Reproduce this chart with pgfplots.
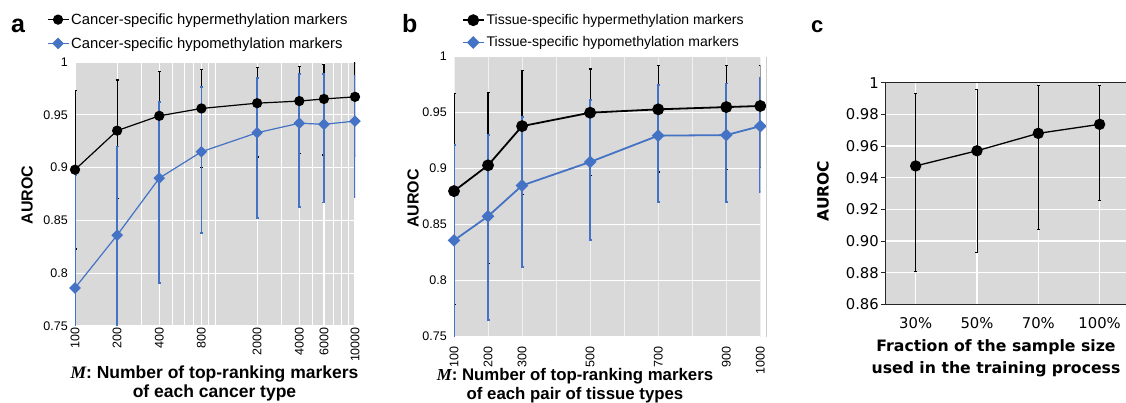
\documentclass[border=0pt]{standalone}
\usepackage{pgfplots}
\pgfplotsset{compat=1.18}
\usepackage{pgfplotstable}
\usepackage{fontspec}
\setmainfont{Liberation Sans}
\newfontfamily\dejavu{DejaVu Sans}
\newfontfamily\serifM{Liberation Serif}
\definecolor{bg}{HTML}{D9D9D9}
\definecolor{xblue}{HTML}{4472C4}

\pgfplotstableread{
x y lo hi
100 0.898 0.823 0.973
200 0.935 0.871 0.983
400 0.949 0.893 0.991
800 0.956 0.900 0.993
2000 0.961 0.910 0.995
4000 0.963 0.913 0.996
6000 0.965 0.912 0.998
10000 0.967 0.911 0.999
}\ahyper
\pgfplotstableread{
x y lo hi
100 0.786 0.700 0.893
200 0.836 0.700 0.920
400 0.890 0.791 0.962
800 0.915 0.838 0.976
2000 0.933 0.852 0.985
4000 0.942 0.863 0.989
6000 0.941 0.867 0.989
10000 0.944 0.872 0.987
}\ahypo
\pgfplotstableread{
x y lo hi
100 0.880 0.779 0.967
200 0.903 0.8155 0.968
300 0.938 0.877 0.9875
500 0.950 0.894 0.989
700 0.953 0.897 0.992
900 0.955 0.899 0.992
1000 0.956 0.901 0.992
}\bhyper
\pgfplotstableread{
x y lo hi
100 0.836 0.700 0.921
200 0.8575 0.765 0.930
300 0.885 0.8125 0.946
500 0.906 0.836 0.961
700 0.9295 0.8705 0.975
900 0.930 0.870 0.976
1000 0.938 0.879 0.981
}\bhypo
\pgfplotstableread{
x y lo hi
0 0.9474 0.8805 0.9935
1 0.957 0.893 0.996
2 0.968 0.907 0.9985
3 0.9737 0.9255 0.9985
}\cdata

\pgfplotsset{
  errb/.style 2 args={forget plot, only marks, mark=none,
    error bars/.cd, y dir=both, y explicit,
    error bar style={draw=#1, line width=#2},
    error mark options={draw=#1, rotate=90, mark size=1.5pt, line width=#2}},
  panel/.style={scale only axis, clip mode=individual,
    axis background/.style={fill=bg},
    axis line style={draw=none},
    tick style={draw=none},
    major tick length=0pt,
    legend cell align=left,
    legend image code/.code={\draw[mark repeat=2,mark phase=2] plot coordinates {(0pt,0pt) (10.5pt,0pt) (21pt,0pt)};}
  }
}

\begin{document}
\begin{tikzpicture}[x=1pt,y=1pt]
\useasboundingbox (0pt,0pt) rectangle (1126pt,403pt);

% ---------------- panel a
\begin{axis}[panel, at={(75pt,77pt)}, anchor=south west, width=280pt, height=264pt,
  xmode=log, xmin=100, xmax=10000, ymin=0.75, ymax=1,
  xtick={100,200,400,800,2000,4000,6000,10000},
  xticklabels={100,200,400,800,2000,4000,6000,10000},
  minor xtick={300,500,600,700,900,1000,3000,5000,7000,8000,9000},
  ytick={0.75,0.8,0.85,0.9,0.95,1},
  yticklabels={0.75,0.8,0.85,0.9,0.95,1},
  xmajorgrids, xminorgrids, ymajorgrids,
  major grid style={white, line width=1.1pt},
  minor grid style={white, line width=0.8pt},
  xticklabel style={rotate=90, anchor=east, font=\fontsize{12.5}{14}\selectfont, inner sep=1pt},
  yticklabel style={font=\fontsize{12.5}{14}\selectfont, inner sep=1pt, xshift=-6pt},
  legend style={at={(axis description cs:-0.101,1.192)}, anchor=north west, draw=none, fill=none,
    inner sep=0pt, row sep=7.6pt, font=\fontsize{14.8}{17}\selectfont,
    nodes={inner sep=2pt}},
]
\addplot[errb={black}{1.2pt}] table[x=x, y=y, y error plus expr=\thisrow{hi}-\thisrow{y}, y error minus expr=\thisrow{y}-\thisrow{lo}]{\ahyper};
\addplot[errb={xblue}{1.8pt}] table[x=x, y=y, y error plus expr=\thisrow{hi}-\thisrow{y}, y error minus expr=\thisrow{y}-\thisrow{lo}]{\ahypo};
\addplot[black, line width=1.2pt, mark=*, mark size=4.5pt, mark options={fill=black}] table[x=x,y=y]{\ahyper};
\addlegendentry{Cancer-specific hypermethylation markers}
\addplot[xblue, line width=1.2pt, mark=square*, mark size=3.5pt, mark options={fill=xblue, rotate=45}] table[x=x,y=y]{\ahypo};
\addlegendentry{Cancer-specific hypomethylation markers}
\end{axis}

% ---------------- panel b
\begin{axis}[panel, at={(454pt,66.3pt)}, anchor=south west, width=306.3pt, height=280pt,
  xmin=100, xmax=1000, ymin=0.75, ymax=1,
  xtick={100,200,300,500,700,900,1000},
  xticklabels={100,200,300,500,700,900,1000},
  minor xtick={400,600,800},
  ytick={0.75,0.8,0.85,0.9,0.95,1},
  yticklabels={0.75,0.8,0.85,0.9,0.95,1},
  xmajorgrids, xminorgrids, ymajorgrids,
  major grid style={white, line width=1.1pt},
  minor grid style={white!60!bg, line width=0.8pt},
  x grid style={white!60!bg, line width=0.8pt},
  xticklabel shift=9pt,
  xticklabel style={rotate=90, anchor=east, font=\fontsize{12.5}{14}\selectfont, inner sep=1pt},
  yticklabel style={font=\fontsize{12.5}{14}\selectfont, inner sep=1pt, xshift=-6pt},
  legend style={at={(axis description cs:0.025,1.159)}, anchor=north west, draw=none, fill=none,
    inner sep=0pt, row sep=6.7pt, font=\fontsize{14}{16}\selectfont,
    nodes={inner sep=2pt}},
]
\addplot[errb={black}{1.2pt}] table[x=x, y=y, y error plus expr=\thisrow{hi}-\thisrow{y}, y error minus expr=\thisrow{y}-\thisrow{lo}]{\bhyper};
\addplot[errb={xblue}{1.8pt}] table[x=x, y=y, y error plus expr=\thisrow{hi}-\thisrow{y}, y error minus expr=\thisrow{y}-\thisrow{lo}]{\bhypo};
\addplot[black, line width=1.8pt, mark=*, mark size=5pt, mark options={fill=black}] table[x=x,y=y]{\bhyper};
\addlegendentry{Tissue-specific hypermethylation markers}
\addplot[xblue, line width=1.8pt, mark=square*, mark size=3.6pt, mark options={fill=xblue, rotate=45}] table[x=x,y=y]{\bhypo};
\addlegendentry{Tissue-specific hypomethylation markers}
\end{axis}
\draw[gray!40, line width=0.8pt] (766pt,66.3pt) -- (766pt,346.3pt);

% ---------------- panel c
\begin{axis}[scale only axis, at={(885pt,98.7pt)}, anchor=south west, width=241.6pt, height=221.6pt,
  axis background/.style={fill=bg},
  axis line style={draw=black!85, line width=1pt},
  xmin=-0.5, xmax=3.44, ymin=0.86, ymax=1,
  xtick={0,1,2,3}, xticklabels={30\%,50\%,70\%,100\%},
  ytick={0.86,0.88,0.9,0.92,0.94,0.96,0.98,1},
  yticklabels={0.86,0.88,0.90,0.92,0.94,0.96,0.98,1},
  xmajorgrids, ymajorgrids,
  major grid style={white, line width=1.1pt},
  xtick style={draw=none},
  ytick style={draw=black!85, line width=0.8pt},
  tick align=outside, major tick length=4pt,
  xticklabel style={font=\dejavu\fontsize{14.8}{16}\selectfont, yshift=-6pt},
  yticklabel style={font=\dejavu\fontsize{14.8}{16}\selectfont, inner sep=2pt},
]
\addplot[errb={black}{0.9pt}] table[x=x, y=y, y error plus expr=\thisrow{hi}-\thisrow{y}, y error minus expr=\thisrow{y}-\thisrow{lo}]{\cdata};
\addplot[black, line width=1.3pt, mark=*, mark size=5pt, mark options={fill=black}] table[x=x,y=y]{\cdata};
\end{axis}

% ---------------- labels
\node[anchor=base west, font=\bfseries\fontsize{25}{28}\selectfont, inner sep=0pt] at (11pt,370pt) {a};
\node[anchor=base west, font=\bfseries\fontsize{25}{28}\selectfont, inner sep=0pt] at (402pt,370pt) {b};
\node[anchor=base west, font=\bfseries\fontsize{22}{26}\selectfont, inner sep=0pt] at (811pt,370pt) {c};

\node[rotate=90, font=\bfseries\fontsize{16}{18}\selectfont] at (27pt,208pt) {AUROC};
\node[rotate=90, font=\bfseries\fontsize{16}{18}\selectfont] at (413pt,204.5pt) {AUROC};
\node[rotate=90, font=\dejavu\bfseries\fontsize{15.5}{18}\selectfont] at (823pt,212pt) {AUROC};

\node[align=center, font=\bfseries\fontsize{17.5}{19.5}\selectfont, inner sep=0pt] at (214.5pt,19.5pt)
  {{\serifM\itshape\bfseries M}: Number of top-ranking markers\\of each cancer type};
\node[align=center, font=\bfseries\fontsize{16.8}{19}\selectfont, inner sep=0pt] at (575pt,17pt)
  {{\serifM\itshape\bfseries M}: Number of top-ranking markers\\of each pair of tissue types};
\node[align=center, font=\dejavu\bfseries\fontsize{15.7}{21.6}\selectfont, inner sep=0pt] at (996pt,44.5pt)
  {Fraction of the sample size\\used in the training process};
\end{tikzpicture}
\end{document}
